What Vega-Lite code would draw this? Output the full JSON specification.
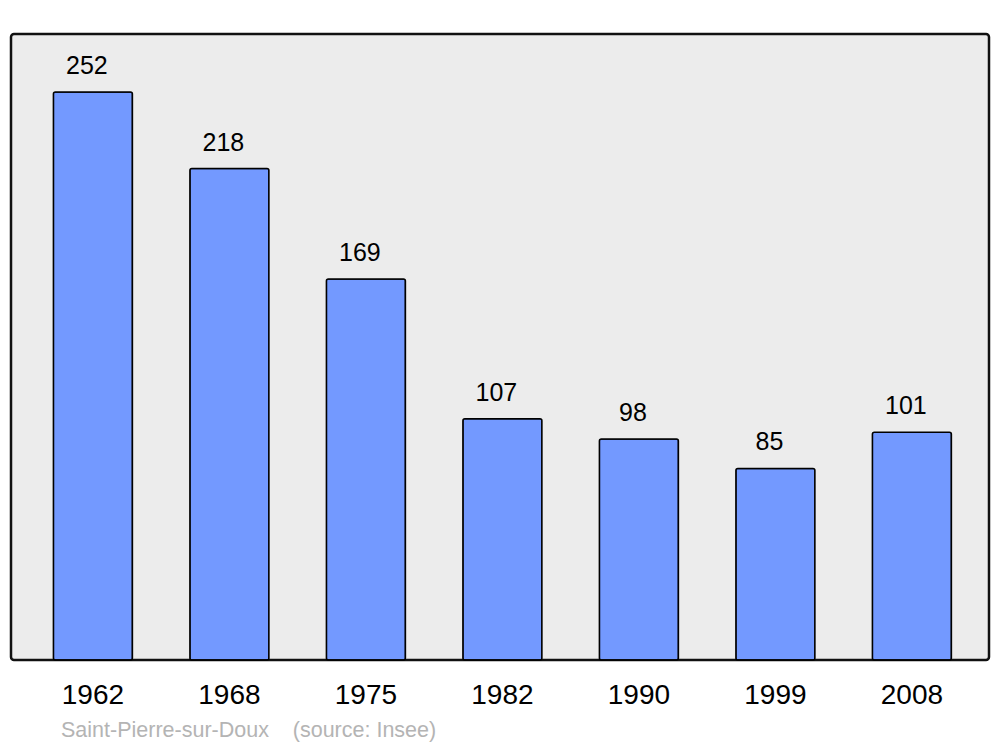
{
  "$schema": "https://vega.github.io/schema/vega-lite/v6.json",
  "width": 978,
  "height": 626,
  "autosize": {"type": "none"},
  "padding": {"left": 11, "top": 34, "right": 11, "bottom": 87},
  "background": "white",
  "config": {
    "view": {"fill": "#ececec", "stroke": "#111111", "strokeWidth": 2.5, "cornerRadius": 3},
    "font": "Liberation Sans"
  },
  "title": {
    "text": "Saint-Pierre-sur-Doux\u00a0\u00a0\u00a0\u00a0(source: Insee)",
    "orient": "bottom",
    "anchor": "start",
    "dx": 50,
    "offset": 11,
    "fontSize": 21.5,
    "fontWeight": "normal",
    "color": "#b4b4b4",
    "font": "Liberation Sans"
  },
  "data": {
    "values": [
      {"year": "1962", "pop": 252},
      {"year": "1968", "pop": 218},
      {"year": "1975", "pop": 169},
      {"year": "1982", "pop": 107},
      {"year": "1990", "pop": 98},
      {"year": "1999", "pop": 85},
      {"year": "2008", "pop": 101}
    ]
  },
  "encoding": {
    "x": {
      "field": "year",
      "type": "nominal",
      "sort": null,
      "scale": {"paddingInner": 0.421, "paddingOuter": 0.293, "align": 0.53},
      "axis": {
        "title": null,
        "labelAngle": 0,
        "labelFontSize": 28,
        "labelColor": "#000000",
        "labelFont": "Liberation Sans",
        "ticks": false,
        "domain": false,
        "labelPadding": 21
      }
    },
    "y": {
      "field": "pop",
      "type": "quantitative",
      "scale": {"domain": [0, 277.7], "nice": false},
      "axis": null
    }
  },
  "layer": [
    {
      "mark": {"type": "bar", "fill": "#7399ff", "stroke": "#000000", "strokeWidth": 1.5, "cornerRadius": 2}
    },
    {
      "mark": {"type": "text", "baseline": "alphabetic", "dx": -6, "dy": -18, "fontSize": 25, "color": "#000000", "font": "Liberation Sans"},
      "encoding": {"text": {"field": "pop", "type": "quantitative"}}
    }
  ]
}
